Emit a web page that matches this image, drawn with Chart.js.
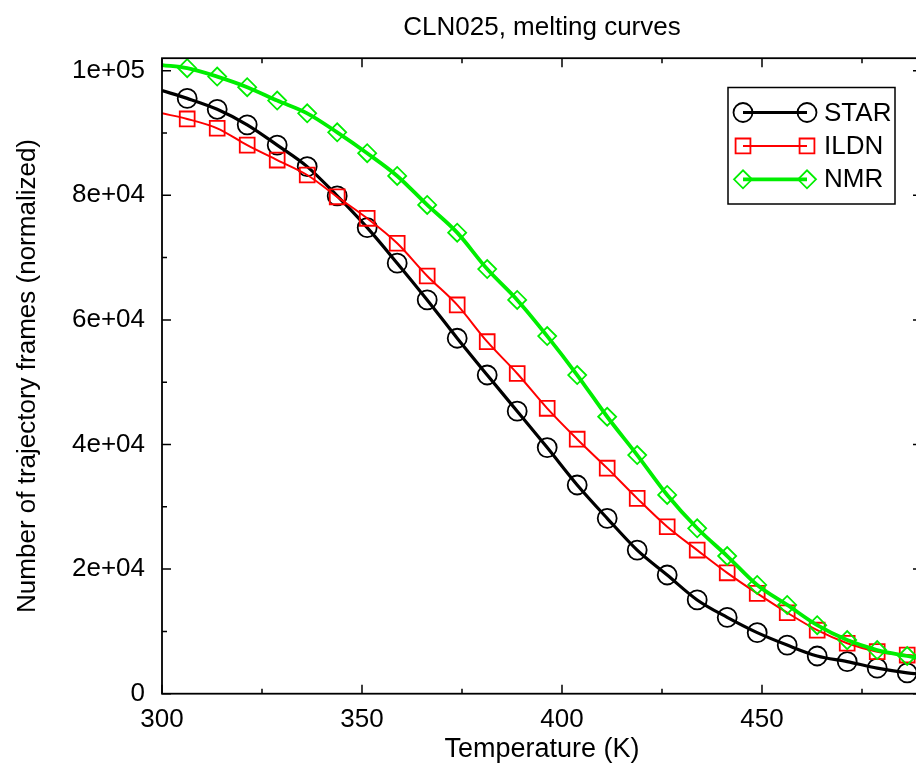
<!DOCTYPE html>
<html>
<head>
<meta charset="utf-8">
<title>CLN025, melting curves</title>
<script src="https://cdn.jsdelivr.net/npm/chart.js@4.4.1/dist/chart.umd.min.js"></script>
<style>
  html, body { margin: 0; padding: 0; background: #fff; overflow: hidden; }
  #wrap { position: relative; width: 930px; height: 768px; }
</style>
</head>
<body>
<div id="wrap"><canvas id="melt"></canvas></div>
<script>
// temperatures (K): first and last entries are where the curves meet the frame, the rest carry markers
const temps = [300, 306.3, 313.8, 321.3, 328.8, 336.3, 343.8, 351.3, 358.8, 366.3, 373.8,
  381.3, 388.8, 396.3, 403.8, 411.3, 418.8, 426.3, 433.8, 441.3, 448.8,
  456.3, 463.8, 471.3, 478.8, 486.3, 490];
const star = [96800, 95550, 93800, 91300, 88050, 84600, 79900, 74800, 69100, 63200, 57050,
  51150, 45350, 39500, 33500, 28150, 23050, 19050, 15050, 12250, 9800,
  7800, 6050, 5150, 4100, 3350, 3100];
const ildn = [93150, 92250, 90750, 88050, 85650, 83250, 79750, 76300, 72300, 67050, 62400,
  56500, 51400, 45800, 40850, 36200, 31350, 26800, 23050, 19400, 16100,
  13000, 10200, 8100, 6750, 6200, 6000];
const nmr = [100900, 100400, 99050, 97350, 95200, 93150, 90100, 86750, 83100, 78450, 74000,
  68150, 63200, 57400, 51150, 44450, 38300, 31900, 26550, 22100, 17450,
  14250, 11000, 8600, 7000, 6050, 5600];

const xLabelTicks = [300, 350, 400, 450];
const xMinorTicks = [325, 375, 425, 475];
const yLabelTicks = [0, 20000, 40000, 60000, 80000, 100000];
const yMinorTicks = [10000, 30000, 50000, 70000, 90000];

const FONT = "'Liberation Sans', Arial, Helvetica, sans-serif";
Chart.defaults.font.family = FONT;
Chart.defaults.color = '#000';

const lastIdx = temps.length - 1;
const toPts = vals => vals.map((v, i) => ({ x: temps[i], y: v }));
// ends of the curve carry no marker
const markerSize = r => ctx => (ctx.dataIndex === 0 || ctx.dataIndex === lastIdx) ? 0 : r;

function series(label, vals, color, width, style, radius, order) {
  return {
    label: label,
    data: toPts(vals),
    borderColor: color,
    borderWidth: width,
    backgroundColor: 'transparent',
    pointStyle: style,
    pointRadius: markerSize(radius),
    pointHoverRadius: markerSize(radius),
    pointBorderColor: color,
    pointBackgroundColor: 'transparent',
    pointBorderWidth: 1.8,
    cubicInterpolationMode: 'monotone',
    legendRadius: radius,
    order: order
  };
}

// frame on all four sides with inward ticks, mirrored top/right
const frameTicks = {
  id: 'frameTicks',
  afterDatasetsDraw(chart) {
    const { ctx, chartArea: a, scales: { x, y } } = chart;
    ctx.save();
    ctx.strokeStyle = '#000';
    ctx.lineWidth = 1.5;
    ctx.beginPath();
    const xMarks = (vals, len) => vals.forEach(v => {
      const px = x.getPixelForValue(v);
      ctx.moveTo(px, a.bottom); ctx.lineTo(px, a.bottom - len);
      ctx.moveTo(px, a.top); ctx.lineTo(px, a.top + len);
    });
    const yMarks = (vals, len) => vals.forEach(v => {
      const py = y.getPixelForValue(v);
      ctx.moveTo(a.left, py); ctx.lineTo(a.left + len, py);
      ctx.moveTo(a.right, py); ctx.lineTo(a.right - len, py);
    });
    xMarks(xLabelTicks, 9);
    xMarks(xMinorTicks, 5);
    yMarks(yLabelTicks, 9);
    yMarks(yMinorTicks, 5);
    ctx.stroke();
    ctx.lineWidth = 1.8;
    ctx.strokeRect(a.left, a.top, a.width, a.height);
    ctx.restore();
  }
};

// boxed key in the upper right, gnuplot style
const boxLegend = {
  id: 'boxLegend',
  afterDraw(chart) {
    const ctx = chart.ctx;
    ctx.save();
    ctx.strokeStyle = '#000';
    ctx.lineWidth = 1.5;
    ctx.strokeRect(728, 87.5, 167, 116.5);
    chart.data.datasets.forEach((ds, i) => {
      const yy = 112.5 + i * 33.4;
      ctx.strokeStyle = ds.borderColor;
      ctx.fillStyle = 'transparent';
      ctx.lineWidth = ds.borderWidth;
      ctx.beginPath();
      ctx.moveTo(743, yy);
      ctx.lineTo(807, yy);
      ctx.stroke();
      ctx.lineWidth = ds.pointBorderWidth;
      [743, 807].forEach(px => {
        Chart.helpers.drawPoint(ctx, {
          pointStyle: ds.pointStyle, radius: ds.legendRadius, rotation: 0, borderWidth: ds.pointBorderWidth
        }, px, yy);
      });
      ctx.fillStyle = '#000';
      ctx.font = '26px ' + FONT;
      ctx.textAlign = 'left';
      ctx.textBaseline = 'middle';
      ctx.fillText(ds.label, 824, yy + 1);
    });
    ctx.restore();
  }
};

const expLabel = v => v === 0 ? '0' : Number(v).toExponential().replace(/e([+-])(\d)$/, 'e$10$2');

new Chart(document.getElementById('melt'), {
  type: 'line',
  data: {
    datasets: [
      series('STAR', star, '#000000', 3.2, 'circle', 9.5, 2),
      series('ILDN', ildn, '#ff0000', 2, 'rect', 10.5, 1),
      series('NMR', nmr, '#00ee00', 3.8, 'rectRot', 9, 0)
    ]
  },
  options: {
    responsive: true,
    maintainAspectRatio: false,
    animation: false,
    events: [],
    layout: { padding: { left: 0, right: 8, top: 0, bottom: 0 } },
    plugins: {
      legend: { display: false },
      tooltip: { enabled: false },
      title: {
        display: true,
        fullSize: false,
        text: 'CLN025, melting curves',
        color: '#000',
        font: { size: 26, weight: 'normal' },
        padding: { top: 12, bottom: 15 }
      }
    },
    scales: {
      x: {
        type: 'linear',
        min: 300,
        max: 490,
        grid: { display: false },
        border: { display: false },
        afterBuildTicks: s => { s.ticks = xLabelTicks.map(v => ({ value: v })); },
        afterFit: s => { s.height = 74.3; },
        ticks: {
          autoSkip: false,
          maxRotation: 0,
          padding: 3,
          font: { size: 26 },
          color: '#000',
          callback: v => String(v)
        },
        title: {
          display: true,
          text: 'Temperature (K)',
          color: '#000',
          font: { size: 27 },
          padding: { top: 0, bottom: 2 }
        }
      },
      y: {
        type: 'linear',
        min: 0,
        max: 102000,
        grid: { display: false },
        border: { display: false },
        afterBuildTicks: s => { s.ticks = yLabelTicks.map(v => ({ value: v })); },
        afterFit: s => { s.width = 162; },
        ticks: {
          autoSkip: false,
          padding: 9,
          font: { size: 26 },
          color: '#000',
          callback: v => expLabel(v)
        },
        title: {
          display: true,
          text: 'Number of trajectory frames (normalized)',
          color: '#000',
          font: { size: 26 },
          padding: { top: 12, bottom: 0 }
        }
      }
    }
  },
  plugins: [frameTicks, boxLegend]
});
</script>
</body>
</html>
